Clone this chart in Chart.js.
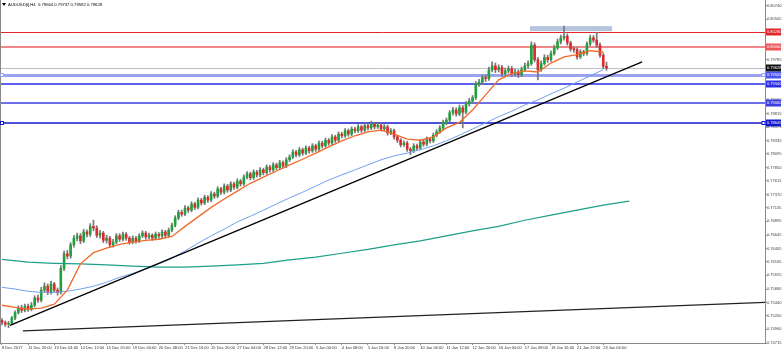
<!DOCTYPE html>
<html>
<head>
<meta charset="utf-8">
<script src="https://cdn.jsdelivr.net/npm/chart.js@4.4.1/dist/chart.umd.min.js"></script>
<style>
    html, body { margin: 0; padding: 0; background: #fff; }
    #wrap { width: 782px; height: 353px; }
</style>
</head>
<body>
<div id="wrap"><canvas id="chart" width="782" height="353"></canvas></div>
<script>
"use strict"

// *** DATI *** //

const symbolTitle = "AUDUSD[t],H4  0.79664 0.79737 0.79592 0.79628";

const opens = [
    0.7512,0.7508,0.7505,0.7507,0.7516,0.7526,0.7534,0.7530,0.7537,0.7532,
    0.7539,0.7552,0.7548,0.7566,0.7573,0.7562,0.7577,0.7566,0.7562,0.7605,
    0.7631,0.7627,0.7647,0.7659,0.7663,0.7654,0.7670,0.7666,0.7680,0.7677,
    0.7664,0.7668,0.7655,0.7659,0.7647,0.7652,0.7663,0.7657,0.7666,0.7659,
    0.7652,0.7659,0.7654,0.7663,0.7668,0.7661,0.7664,0.7659,0.7666,0.7663,
    0.7670,0.7664,0.7673,0.7682,0.7695,0.7705,0.7702,0.7713,0.7709,0.7720,
    0.7714,0.7727,0.7722,0.7732,0.7727,0.7738,0.7734,0.7747,0.7741,0.7752,
    0.7745,0.7756,0.7750,0.7761,0.7756,0.7768,0.7774,0.7767,0.7777,0.7772,
    0.7781,0.7776,0.7786,0.7781,0.7790,0.7785,0.7794,0.7788,0.7799,0.7804,
    0.7813,0.7808,0.7817,0.7811,0.7820,0.7815,0.7824,0.7818,0.7829,0.7824,
    0.7834,0.7829,0.7840,0.7834,0.7845,0.7842,0.7851,0.7845,0.7854,0.7851,
    0.7858,0.7852,0.7860,0.7856,0.7863,0.7858,0.7861,0.7854,0.7858,0.7847,
    0.7851,0.7840,0.7834,0.7826,0.7829,0.7818,0.7815,0.7824,0.7820,0.7831,
    0.7827,0.7836,0.7833,0.7843,0.7849,0.7856,0.7866,0.7870,0.7883,0.7888,
    0.7881,0.7892,0.7884,0.7899,0.7904,0.7910,0.7935,0.7938,0.7946,0.7944,
    0.7960,0.7967,0.7960,0.7964,0.7953,0.7958,0.7962,0.7953,0.7956,0.7951,
    0.7960,0.7967,0.7971,0.8004,0.7978,0.7960,0.7971,0.7982,0.7978,0.7989,
    0.7999,0.8010,0.8017,0.8020,0.8008,0.7997,0.7996,0.7983,0.7992,0.7989,
    0.8006,0.8017,0.8013,0.8004,0.7986,0.79664
];
const highs = [
    0.7515,0.7511,0.7510,0.7519,0.7529,0.7538,0.7539,0.7541,0.7541,0.7544,
    0.7556,0.7557,0.7571,0.7579,0.7577,0.7582,0.7580,0.7570,0.7610,0.7636,
    0.7637,0.7651,0.7664,0.7668,0.7667,0.7675,0.7674,0.7685,0.7691,0.7681,
    0.7673,0.7671,0.7664,0.7662,0.7657,0.7667,0.7667,0.7670,0.7669,0.7662,
    0.7663,0.7662,0.7667,0.7672,0.7671,0.7668,0.7667,0.7670,0.7669,0.7674,
    0.7673,0.7677,0.7686,0.7699,0.7709,0.7709,0.7717,0.7716,0.7724,0.7723,
    0.7731,0.7730,0.7736,0.7735,0.7742,0.7741,0.7751,0.7750,0.7756,0.7755,
    0.7760,0.7759,0.7765,0.7764,0.7772,0.7778,0.7777,0.7781,0.7780,0.7785,
    0.7784,0.7790,0.7789,0.7794,0.7793,0.7798,0.7797,0.7803,0.7808,0.7817,
    0.7816,0.7821,0.7820,0.7824,0.7823,0.7828,0.7827,0.7833,0.7832,0.7838,
    0.7837,0.7844,0.7843,0.7849,0.7848,0.7855,0.7854,0.7858,0.7857,0.7862,
    0.7861,0.7864,0.7863,0.7868,0.7866,0.7865,0.7864,0.7862,0.7861,0.7855,
    0.7854,0.7843,0.7837,0.7833,0.7832,0.7821,0.7828,0.7827,0.7835,0.7834,
    0.7840,0.7839,0.7847,0.7853,0.7860,0.7870,0.7874,0.7887,0.7893,0.7892,
    0.7897,0.7896,0.7903,0.7909,0.7914,0.7939,0.7943,0.7950,0.7951,0.7965,
    0.7974,0.7972,0.7969,0.7968,0.7963,0.7967,0.7966,0.7961,0.7960,0.7965,
    0.7972,0.7976,0.8010,0.8008,0.7982,0.7976,0.7987,0.7986,0.7994,0.8004,
    0.8015,0.8022,0.8038,0.8024,0.8011,0.8001,0.7999,0.7996,0.7995,0.8010,
    0.8022,0.8021,0.8027,0.8008,0.7990,0.79737
];
const lows = [
    0.7504,0.7501,0.7499,0.7504,0.7513,0.7523,0.7526,0.7527,0.7528,0.7529,
    0.7536,0.7544,0.7545,0.7562,0.7558,0.7559,0.7562,0.7557,0.7559,0.7601,
    0.7622,0.7623,0.7643,0.7654,0.7649,0.7651,0.7661,0.7662,0.7672,0.7660,
    0.7659,0.7651,0.7650,0.7642,0.7643,0.7649,0.7653,0.7654,0.7655,0.7648,
    0.7649,0.7650,0.7651,0.7660,0.7657,0.7658,0.7655,0.7656,0.7659,0.7660,
    0.7660,0.7661,0.7670,0.7679,0.7692,0.7698,0.7699,0.7705,0.7706,0.7710,
    0.7711,0.7718,0.7719,0.7723,0.7724,0.7730,0.7731,0.7737,0.7738,0.7741,
    0.7742,0.7746,0.7747,0.7752,0.7753,0.7765,0.7763,0.7764,0.7768,0.7769,
    0.7772,0.7773,0.7777,0.7778,0.7781,0.7782,0.7784,0.7785,0.7796,0.7801,
    0.7804,0.7805,0.7807,0.7808,0.7811,0.7812,0.7814,0.7815,0.7820,0.7821,
    0.7825,0.7826,0.7830,0.7831,0.7838,0.7839,0.7841,0.7842,0.7847,0.7848,
    0.7848,0.7849,0.7852,0.7853,0.7854,0.7855,0.7850,0.7851,0.7843,0.7844,
    0.7836,0.7830,0.7822,0.7823,0.7814,0.7808,0.7812,0.7816,0.7817,0.7823,
    0.7824,0.7829,0.7830,0.7840,0.7846,0.7853,0.7862,0.7867,0.7879,0.7877,
    0.7878,0.7856,0.7881,0.7895,0.7900,0.7907,0.7930,0.7934,0.7939,0.7941,
    0.7956,0.7955,0.7956,0.7948,0.7949,0.7954,0.7948,0.7949,0.7946,0.7948,
    0.7957,0.7963,0.7968,0.7974,0.7942,0.7957,0.7968,0.7973,0.7975,0.7986,
    0.7996,0.8006,0.8013,0.8004,0.7993,0.7991,0.7979,0.7980,0.7985,0.7986,
    0.8003,0.8009,0.8000,0.7982,0.7962,0.79592
];
const closes = [
    0.7508,0.7505,0.7507,0.7516,0.7526,0.7534,0.7530,0.7537,0.7532,0.7539,
    0.7552,0.7548,0.7566,0.7573,0.7562,0.7577,0.7566,0.7562,0.7605,0.7631,
    0.7627,0.7647,0.7659,0.7663,0.7654,0.7670,0.7666,0.7680,0.7677,0.7664,
    0.7668,0.7655,0.7659,0.7647,0.7652,0.7663,0.7657,0.7666,0.7659,0.7652,
    0.7659,0.7654,0.7663,0.7668,0.7661,0.7664,0.7659,0.7666,0.7663,0.7670,
    0.7664,0.7673,0.7682,0.7695,0.7705,0.7702,0.7713,0.7709,0.7720,0.7714,
    0.7727,0.7722,0.7732,0.7727,0.7738,0.7734,0.7747,0.7741,0.7752,0.7745,
    0.7756,0.7750,0.7761,0.7756,0.7768,0.7774,0.7767,0.7777,0.7772,0.7781,
    0.7776,0.7786,0.7781,0.7790,0.7785,0.7794,0.7788,0.7799,0.7804,0.7813,
    0.7808,0.7817,0.7811,0.7820,0.7815,0.7824,0.7818,0.7829,0.7824,0.7834,
    0.7829,0.7840,0.7834,0.7845,0.7842,0.7851,0.7845,0.7854,0.7851,0.7858,
    0.7852,0.7860,0.7856,0.7863,0.7858,0.7861,0.7854,0.7858,0.7847,0.7851,
    0.7840,0.7834,0.7826,0.7829,0.7818,0.7815,0.7824,0.7820,0.7831,0.7827,
    0.7836,0.7833,0.7843,0.7849,0.7856,0.7866,0.7870,0.7883,0.7888,0.7881,
    0.7892,0.7884,0.7899,0.7904,0.7910,0.7935,0.7938,0.7946,0.7944,0.7960,
    0.7967,0.7960,0.7964,0.7953,0.7958,0.7962,0.7953,0.7956,0.7951,0.7960,
    0.7967,0.7971,0.8004,0.7978,0.7960,0.7971,0.7982,0.7978,0.7989,0.7999,
    0.8010,0.8017,0.8020,0.8008,0.7997,0.7996,0.7983,0.7992,0.7989,0.8006,
    0.8017,0.8013,0.8004,0.7986,0.7966,0.79628
];

// medie mobili lette ogni 4 barre (veloce, media) e ogni 8 barre (lenta)
const maFast = [
    0.7539,0.7535,0.7532,0.7534,0.7541,0.7566,0.7613,0.7633,0.7641,0.7648,
    0.7652,0.7655,0.7657,0.7662,0.7680,0.7697,0.7714,0.7729,0.7743,0.7757,
    0.7768,0.7779,0.7790,0.7800,0.7811,0.7822,0.7833,0.7842,0.7849,0.7852,
    0.7845,0.7836,0.7834,0.7840,0.7856,0.7866,0.7888,0.7915,0.7942,0.7953,
    0.7958,0.7956,0.7972,0.7983,0.7987,0.7994,0.7992
];
const maMid = [
    0.7571,0.7568,0.7564,0.7562,0.7562,0.7564,0.7568,0.7573,0.7580,0.7589,
    0.7596,0.7604,0.7613,0.7623,0.7636,0.7650,0.7663,0.7675,0.7688,0.7698,
    0.7709,0.7720,0.7731,0.7741,0.7752,0.7763,0.7772,0.7781,0.7790,0.7799,
    0.7806,0.7811,0.7817,0.7824,0.7833,0.7843,0.7854,0.7865,0.7876,0.7886,
    0.7897,0.7906,0.7917,0.7927,0.7938,0.7949,0.7960
];
const maSlow = [
    0.7621,0.7616,0.7614,0.7613,0.7611,0.7609,0.7607,0.7607,0.7609,0.7611,
    0.7614,0.7620,0.7625,0.7632,0.7639,0.7647,0.7654,0.7663,0.7672,0.7680,
    0.7691,0.7700,0.7709,0.7718,0.7725
];

const xLabels = [
    "8 Dec 2017", "11 Dec 20:00", "13 Dec 04:00", "14 Dec 12:00", "15 Dec 20:00", "19 Dec 00:00",
    "20 Dec 08:00", "21 Dec 16:00", "25 Dec 20:00", "27 Dec 04:00", "28 Dec 12:00", "29 Dec 20:00",
    "3 Jan 00:00", "4 Jan 08:00", "5 Jan 16:00", "8 Jan 20:00", "10 Jan 04:00", "11 Jan 12:00",
    "12 Jan 20:00", "16 Jan 00:00", "17 Jan 08:00", "18 Jan 16:00", "21 Jan 22:00", "23 Jan 04:00"
];
const yTicks = [
    0.74715, 0.74960, 0.75200, 0.75440, 0.75680, 0.75925, 0.76165, 0.76405, 0.76645,
    0.76895, 0.77135, 0.77370, 0.77615, 0.77850, 0.78095, 0.78335, 0.78575, 0.78815,
    0.79060, 0.79305, 0.79545, 0.79785, 0.80025, 0.80265, 0.80505, 0.80740
];

// livelli orizzontali e oggetti disegnati
const levels = [0.80280, 0.80000, 0.79628, 0.79505, 0.79340, 0.79000, 0.78645];
const trendA = { bars: [2.45, 195.9], prices: [0.7503, 0.7974] };
const trendB = { bars: [6.4, 233.5], prices: [0.7493, 0.7544] };
const zoneBars = [161.6, 186.7];
const zonePrices = [0.8029, 0.8038];

// *** STILI *** //

const levelColors = ["#e3262a", "#f2878a", "#b9c0c8", "#9aa2f2", "#2a2ee6", "#3b3fe0", "#1218cc"];
const levelWidths = [1, 2, 1, 3, 1.5, 1.5, 1.5];
const levelBoxColors = ["#e3262a", "#f0555a", "#111111", "#4a55f0", "#2a2ee6", "#3b3fe0", "#1218cc"];
const levelMarkers = [false, false, false, true, false, false, true];
const font = "Liberation Sans";

// *** GRAFICO *** //

let bars = closes.map((c, i) => i);

let wickData = bars.map(i => ({ x: i, y: [lows[i], highs[i]] }));
let bodyData = bars.map(i => ({ x: i, y: [opens[i], closes[i]] }));
let bodyColors = bars.map(i => closes[i] >= opens[i] ? "#22a03c" : "#dc2b2e");

let fastData = maFast.map((v, i) => ({ x: i * 4, y: v }));
let midData = maMid.map((v, i) => ({ x: i * 4, y: v }));
let slowData = maSlow.map((v, i) => ({ x: i * 8, y: v }));

function trendData (t) {
    return [{ x: t.bars[0], y: t.prices[0] }, { x: t.bars[1], y: t.prices[1] }];
}

const drawings = {
    id: "drawings",
    beforeDatasetsDraw(chart) {
        let ctx = chart.ctx, area = chart.chartArea;
        let x = chart.scales.x, y = chart.scales.y;
        ctx.save();
        ctx.beginPath();
        ctx.rect(area.left, area.top, area.right - area.left, area.bottom - area.top);
        ctx.clip();

        //zona di resistenza
        let zx1 = x.getPixelForValue(zoneBars[0]), zx2 = x.getPixelForValue(zoneBars[1]);
        let zy1 = y.getPixelForValue(zonePrices[1]), zy2 = y.getPixelForValue(zonePrices[0]);
        ctx.fillStyle = "#b3c4dc";
        ctx.fillRect(zx1, zy1, zx2 - zx1, zy2 - zy1);

        //livelli
        for (let i = 0; i < levels.length; i++) {
            let py = Math.round(y.getPixelForValue(levels[i])) + (levelWidths[i] % 2 == 1 ? 0.5 : 0);
            ctx.strokeStyle = levelColors[i];
            ctx.lineWidth = levelWidths[i];
            ctx.beginPath();
            ctx.moveTo(area.left, py);
            ctx.lineTo(area.right, py);
            ctx.stroke();
        }
        ctx.restore();
    },
    afterDraw(chart) {
        let ctx = chart.ctx, area = chart.chartArea;
        let y = chart.scales.y;
        ctx.save();

        //cornice sinistra
        ctx.strokeStyle = "#8a8a8a";
        ctx.lineWidth = 1;
        ctx.beginPath();
        ctx.moveTo(area.left + 0.5, area.top);
        ctx.lineTo(area.left + 0.5, area.bottom);
        ctx.stroke();

        //marcatori e etichette dei livelli
        ctx.font = "4px '" + font + "'";
        ctx.textBaseline = "middle";
        ctx.textAlign = "left";
        for (let i = 0; i < levels.length; i++) {
            let py = Math.round(y.getPixelForValue(levels[i]));
            if (levelMarkers[i]) {
                ctx.strokeStyle = levelColors[i];
                ctx.fillStyle = "#fff";
                ctx.lineWidth = 1;
                ctx.fillRect(area.left + 0.5, py - 2, 3, 4);
                ctx.strokeRect(area.left + 0.5, py - 1.5, 3, 3);
                ctx.fillRect(area.right - 3, py - 2, 3, 4);
                ctx.strokeRect(area.right - 3, py - 1.5, 3, 3);
            }
            ctx.fillStyle = levelBoxColors[i];
            ctx.fillRect(area.right + 1, py - 3.5, 15, 7);
            ctx.fillStyle = "#fff";
            ctx.fillText(levels[i].toFixed(5), area.right + 2, py + 0.3);
        }

        //titolo
        ctx.fillStyle = "#000";
        ctx.beginPath();
        ctx.moveTo(2, 3);
        ctx.lineTo(6, 3);
        ctx.lineTo(4, 6);
        ctx.closePath();
        ctx.fill();
        ctx.font = "4.2px '" + font + "'";
        ctx.fillText(symbolTitle, 8, 4.5);
        ctx.restore();
    }
};

let chart = new Chart(document.getElementById("chart"), {
    type: "bar",
    data: {
        datasets: [
            {
                label: "wicks",
                data: wickData,
                backgroundColor: "#777777",
                barThickness: 1,
                grouped: false,
                order: 11
            },
            {
                label: "bodies",
                data: bodyData,
                backgroundColor: bodyColors,
                barThickness: 2,
                minBarLength: 1,
                grouped: false,
                order: 10
            },
            {
                type: "line", label: "ma slow", data: slowData,
                borderColor: "#1f9e8a", borderWidth: 1.2, pointRadius: 0, tension: 0, order: 4
            },
            {
                type: "line", label: "ma mid", data: midData,
                borderColor: "#739ff0", borderWidth: 1, pointRadius: 0, tension: 0, order: 3
            },
            {
                type: "line", label: "ma fast", data: fastData,
                borderColor: "#f26a2a", borderWidth: 1.3, pointRadius: 0, tension: 0, order: 2
            },
            {
                type: "line", label: "trend A", data: trendData(trendA),
                borderColor: "#000", borderWidth: 1.3, pointRadius: 0, order: 1
            },
            {
                type: "line", label: "trend B", data: trendData(trendB),
                borderColor: "#222", borderWidth: 1.2, pointRadius: 0, order: 1
            }
        ]
    },
    options: {
        responsive: false,
        animation: false,
        devicePixelRatio: 1,
        layout: { padding: 0 },
        plugins: {
            legend: { display: false },
            tooltip: { enabled: false },
            title: { display: false }
        },
        scales: {
            x: {
                type: "linear",
                min: -0.612,
                max: 233.5,
                offset: false,
                afterBuildTicks: function (axis) {
                    axis.ticks = xLabels.map((l, i) => ({ value: i * 8 }));
                },
                afterFit: function (axis) {
                    axis.height = 10;
                    axis.paddingLeft = 0;
                    axis.paddingRight = 0;
                },
                grid: { display: true, drawOnChartArea: false, drawTicks: true, tickLength: 2, color: "#8a8a8a", offset: false },
                border: { display: true, color: "#8a8a8a" },
                ticks: {
                    autoSkip: false,
                    maxRotation: 0,
                    minRotation: 0,
                    align: "start",
                    padding: 0,
                    color: "#333",
                    font: { family: font, size: 4 },
                    callback: function (value, index) { return xLabels[index]; }
                }
            },
            y: {
                position: "right",
                min: 0.74715,
                max: 0.80847,
                afterBuildTicks: function (axis) {
                    axis.ticks = yTicks.map(v => ({ value: v }));
                },
                afterFit: function (axis) {
                    axis.width = 17;
                    axis.paddingTop = 0;
                    axis.paddingBottom = 0;
                },
                grid: { display: true, drawOnChartArea: false, drawTicks: true, tickLength: 2, color: "#8a8a8a" },
                border: { display: true, color: "#8a8a8a" },
                ticks: {
                    autoSkip: false,
                    padding: 0,
                    color: "#444",
                    font: { family: font, size: 4 },
                    callback: function (value) { return value.toFixed(5); }
                }
            }
        }
    },
    plugins: [drawings]
});
</script>
</body>
</html>
